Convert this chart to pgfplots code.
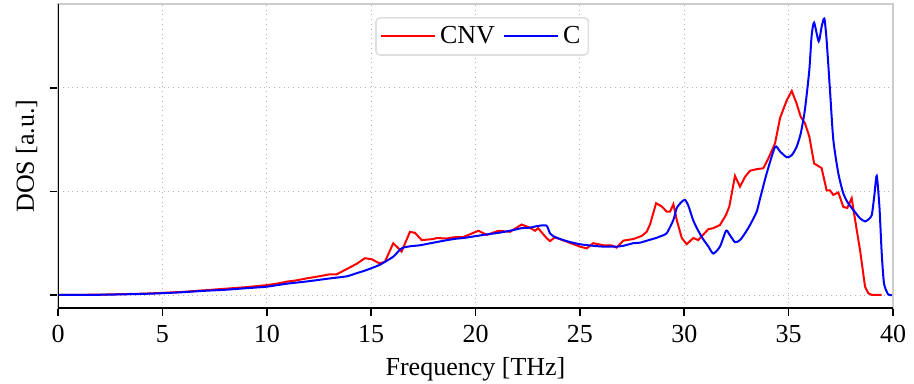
\documentclass[border=0pt]{standalone}
\usepackage{fontspec}
\setmainfont{Liberation Serif}
\usepackage{pgfplots}
\pgfplotsset{compat=1.18}
\begin{document}
\fontsize{13}{15}\selectfont
\begin{tikzpicture}
\begin{axis}[
  scale only axis,
  width=417.5pt, height=152pt,
  xmin=0, xmax=40, ymin=-0.126, ymax=2.81,
  xtick={0,5,...,40}, ytick={0,1,2}, yticklabels={},
  tick pos=left, tick align=outside,
  major tick length=4pt,
  tick style={black, line width=0.8pt},
  /pgf/number format/assume math mode=true,
  ticklabel style={font=\fontsize{13}{15}\selectfont},
  label style={font=\fontsize{13}{15}\selectfont},
  xlabel={Frequency [THz]},
  ylabel={DOS [a.u.]},
  ylabel style={at={(axis description cs:-0.014,0.5)}, anchor=south},
  xlabel style={at={(axis description cs:0.5,0)}, anchor=north, yshift=-20pt},
  grid=major,
  major grid style={gray!60, dotted, line width=0.4pt},
  axis line style={draw=gray!40, line width=1pt},
  legend style={at={(axis description cs:0.508,0.957)}, anchor=north,
    legend columns=2, draw=gray!25, line width=0.8pt, rounded corners=2pt,
    font=\fontsize{13}{15}\selectfont, inner sep=2pt,
    /tikz/every even column/.append style={column sep=2pt}},
  legend image code/.code={\draw[#1] (0cm,0cm) -- (0.95cm,0cm);},
]
\addplot[red, line width=1pt] coordinates {
(0,0) (2,0.003) (4,0.012) (5,0.02) (6,0.03) (7,0.045) (8,0.06) (9,0.075)
(10,0.095) (10.5,0.11) (11,0.13) (11.4,0.14) (11.9,0.16) (12.5,0.18)
(13.03,0.20) (13.35,0.20) (13.83,0.25) (14.3,0.30) (14.7,0.355) (15.03,0.345)
(15.4,0.305) (15.66,0.32) (16.06,0.50) (16.46,0.42) (16.86,0.61) (17.1,0.60)
(17.42,0.53) (17.98,0.54) (18.14,0.55) (18.6,0.545) (18.94,0.557) (19.42,0.56)
(19.9,0.60) (20.14,0.62) (20.54,0.58) (21.1,0.62) (21.65,0.61) (22.21,0.68)
(22.6,0.65) (22.85,0.62) (23.0,0.645) (23.4,0.55) (23.57,0.52) (23.8,0.557)
(24.37,0.515) (25.0,0.467) (25.33,0.45) (25.64,0.50) (26.12,0.48) (26.5,0.48)
(26.76,0.457) (27.08,0.525) (27.56,0.54) (27.96,0.57) (28.2,0.61) (28.36,0.68)
(28.65,0.886) (28.92,0.855) (29.16,0.805) (29.32,0.805) (29.48,0.876) (29.64,0.725)
(29.88,0.55) (30.12,0.49) (30.43,0.55) (30.67,0.53) (30.83,0.565) (31.15,0.635)
(31.39,0.645) (31.71,0.676) (32.0,0.773) (32.16,0.855) (32.43,1.15) (32.67,1.046)
(32.91,1.14) (33.15,1.20) (33.47,1.215) (33.79,1.224) (34.03,1.32) (34.35,1.465)
(34.59,1.71) (34.91,1.88) (35.15,1.97) (35.38,1.85) (35.58,1.72) (35.78,1.66)
(35.99,1.53) (36.22,1.27) (36.58,1.225) (36.82,1.01) (36.98,1.01) (37.14,0.966)
(37.38,0.99) (37.62,0.85) (37.81,0.84) (38.02,0.934) (38.26,0.63) (38.42,0.435)
(38.66,0.08) (38.82,0.016) (38.98,0) (39.46,0)
};
\addlegendentry{CNV}
\addplot[blue, line width=1pt, smooth, tension=0.4] coordinates {
(0,0) (2,0.002) (4,0.01) (5,0.017) (6,0.027) (7,0.04) (8,0.05) (9,0.065)
(10,0.08) (11,0.11) (11.9,0.13) (13.03,0.16) (13.83,0.18) (14.3,0.21)
(14.7,0.235) (15.03,0.26) (15.4,0.29) (15.66,0.32) (16.06,0.37) (16.46,0.45)
(16.86,0.47) (17.34,0.48) (17.98,0.505) (18.94,0.54) (19.42,0.55) (19.9,0.565)
(20.54,0.585) (21.1,0.60) (21.65,0.62) (22.21,0.645) (22.6,0.65) (23.0,0.667)
(23.4,0.67) (23.57,0.595) (23.8,0.56) (24.37,0.52) (25.0,0.49) (25.64,0.475)
(26.12,0.467) (26.76,0.467) (27.08,0.475) (27.56,0.50) (27.88,0.505) (28.3,0.53)
(28.65,0.55) (28.9,0.57) (29.16,0.596) (29.48,0.725) (29.64,0.84) (29.88,0.90)
(30.04,0.918) (30.2,0.86) (30.43,0.72) (30.67,0.62) (30.9,0.54) (31.15,0.47)
(31.39,0.40) (31.71,0.467) (32.0,0.62) (32.16,0.586) (32.43,0.51) (32.67,0.53)
(32.91,0.596) (33.15,0.676) (33.47,0.805) (33.63,0.93) (33.95,1.175) (34.35,1.43)
(34.59,1.385) (34.91,1.33) (35.15,1.35) (35.38,1.43) (35.58,1.56) (35.78,1.79)
(35.99,2.17) (36.1,2.5) (36.22,2.63) (36.44,2.45) (36.58,2.59) (36.71,2.67)
(36.82,2.46) (36.98,1.98) (37.14,1.50) (37.38,1.175) (37.62,0.98) (37.81,0.90)
(38.02,0.84) (38.26,0.78) (38.42,0.74) (38.66,0.71) (38.82,0.73) (38.98,0.77)
(39.1,0.95) (39.22,1.15) (39.35,0.85) (39.46,0.40) (39.57,0.11) (39.77,0.005) (39.95,0)
};
\addlegendentry{C}
\draw[black, line width=1pt] (rel axis cs:0,1) -- (rel axis cs:0,0) -- (rel axis cs:1,0);
\end{axis}
\pgfresetboundingbox
\path ([xshift=-29pt,yshift=-37.5pt]current axis.south west) rectangle ([xshift=10.5pt,yshift=2pt]current axis.north east);
\end{tikzpicture}
\end{document}
